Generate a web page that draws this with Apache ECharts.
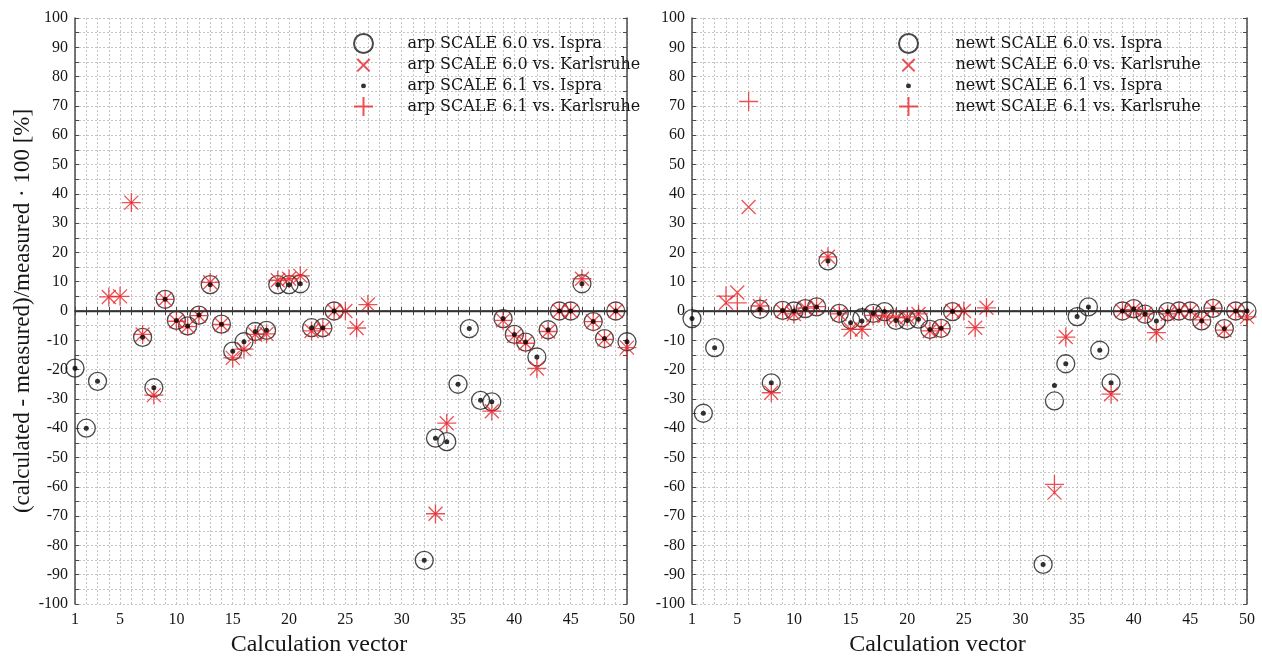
<!DOCTYPE html>
<html>
<head>
<meta charset="utf-8">
<script src="https://cdn.jsdelivr.net/npm/echarts@6/dist/echarts.min.js"></script>
<style>
  html, body { margin: 0; padding: 0; background: #ffffff; }
  #chart { width: 1262px; height: 656px; }
</style>
</head>
<body>
<div id="chart"></div>
<script>
// Calculation vectors 1..50
const vectors = Array.from({ length: 50 }, (_, i) => i + 1);
const xTickLabels = [1, 5, 10, 15, 20, 25, 30, 35, 40, 45, 50];
const yTickLabels = [100, 90, 80, 70, 60, 50, 40, 30, 20, 10, 0, -10, -20, -30, -40, -50, -60, -70, -80, -90, -100];

// arp: deviation (calculated - measured)/measured * 100 [%]
const arp60Ispra = [-19.5, -40, -24, null, null, null, -9, -26.2, 4, -3.2,
  -5.1, -1.4, 9, -4.5, -13.7, -10.5, -7, -6.6, 9, 9,
  9.3, -5.7, -5.7, 0, null, null, null, null, null, null,
  null, -85.1, -43.4, -44.6, -25, -6, -30.5, -31, -2.6, -8,
  -10.6, -15.7, -6.4, 0, 0, 9.3, -3.6, -9.4, 0, -10.5];
const arp60Karlsruhe = [null, null, null, 4.8, 5, 37, -8, -28.7, 4, -3.5,
  -5.3, -1.6, 9.8, -4.6, -16, -13, -8, -7.8, 10.5, 11,
  12, -6.8, -6, 0, 0, -5.8, 2.2, null, null, null,
  null, null, -69.2, -38.3, null, null, null, -34.2, -3.2, -8.5,
  -11, -19.6, -7, 0, 0, 11, -3.6, -9.7, 0, -12.5];
const arp61Ispra = [-19.5, -40, -24, null, null, null, -9, -26.2, 4, -3.2,
  -5.1, -1.4, 9, -4.5, -13.7, -10.5, -7, -6.6, 9, 9,
  9.3, -5.7, -5.7, 0, null, null, null, null, null, null,
  null, -85.1, -43.4, -44.6, -25, -6, -30.5, -31, -2.6, -8,
  -10.6, -15.7, -6.4, 0, 0, 9.3, -3.6, -9.4, 0, -10.5];
const arp61Karlsruhe = [null, null, null, 4.8, 5, 37, -8, -28.7, 4, -3.5,
  -5.3, -1.6, 9.8, -4.6, -16, -13, -8, -7.8, 10.5, 11,
  12, -6.8, -6, 0, 0, -5.8, 2.2, null, null, null,
  null, null, -69.2, -38.3, null, null, null, -34.2, -3.2, -8.5,
  -11, -19.6, -7, 0, 0, 11, -3.6, -9.7, 0, -12.5];

// newt: deviation (calculated - measured)/measured * 100 [%]
const newt60Ispra = [-2.6, -34.9, -12.5, null, null, null, 0.6, -24.5, 0.2, 0,
  0.8, 1.4, 17.1, -0.8, -3, -2.3, -0.8, -0.2, -3.2, -3.2,
  -2.8, -6.3, -5.9, -0.2, null, null, null, null, null, null,
  null, -86.5, -30.7, -18, -1.9, 1.4, -13.4, -24.5, 0, 0.8,
  -1.1, -3.4, -0.2, 0, 0, -3.4, 0.9, -6, 0, 0];
const newt60Karlsruhe = [null, null, null, 2.8, 6.3, 35.5, 1.7, -27.9, 0, -1,
  1, 1.5, 18.5, -1, -6.3, -6.3, -1.5, -1.7, -2.3, -2,
  -1, -6.8, -6, 0, 0, -5.7, 1.1, null, null, null,
  null, null, -62, -8.9, null, null, null, -28.4, 0, 0.5,
  -1, -7.4, -1, 0, 0, -3, 1, -6.5, 0, -2];
const newt61Ispra = [-2.6, -34.9, -12.5, null, null, null, 0.6, -24.5, 0.2, 0,
  0.8, 1.4, 17.1, -0.8, -4, -3.4, -0.8, -0.2, -3.2, -3.2,
  -2.8, -6.3, -5.9, -0.2, null, null, null, null, null, null,
  null, -86.5, -25.4, -18, -1.9, 1.4, -13.4, -24.5, 0, 0.8,
  -1.1, -3.4, -0.2, 0, 0, -3.4, 0.9, -6, 0, 0];
const newt61Karlsruhe = [null, null, null, 5.1, 2.8, 71.5, 1.7, -27.9, 0, -1,
  1, 1.5, 18.5, -1, -6.3, -6.3, -1.5, -1.7, -2.3, -2,
  -1, -6.8, -6, 0, 0, -5.7, 1.1, null, null, null,
  null, null, -59.2, -8.9, null, null, null, -28.4, 0, 0.5,
  -1, -7.4, -1, 0, 0, -3, 1, -6.5, 0, -2];

const FONT = 'Liberation Serif';
const LEGEND_FONT = 'DejaVu Serif';
const RED = '#e8262b';
const INK = '#1c1c1c';
const FRAME = '#4a4a4a';
const TEXT = '#161616';

const pairs = (ys) => vectors.map((x, i) => [x, ys[i]]).filter(p => p[1] !== null);

const SYM_X = 'path://M0,0L10,10M10,0L0,10';
const SYM_PLUS = 'path://M5,0L5,10M0,5L10,5';
// Legend icons: zero-length corner segments fix the icon box so the glyph keeps its size
const ICON_X = 'path://M0,0L0,0M20,20L20,20M3.5,3.5L16.5,16.5M16.5,3.5L3.5,16.5';
const ICON_DOT = 'path://M0,0L0,0M20,20L20,20M7.4,10a2.6,2.6 0 1,0 5.2,0a2.6,2.6 0 1,0 -5.2,0Z';

function styles(kind) {
  if (kind === 'circle') return { symbol: 'circle', symbolSize: 18, itemStyle: { color: 'rgba(0,0,0,0)', borderColor: INK, borderWidth: 1.3 } };
  if (kind === 'x') return { symbol: SYM_X, symbolSize: 14, itemStyle: { color: 'rgba(0,0,0,0)', borderColor: RED, borderWidth: 1.3 } };
  if (kind === 'dot') return { symbol: 'circle', symbolSize: 5, itemStyle: { color: '#000' } };
  return { symbol: SYM_PLUS, symbolSize: 19, itemStyle: { color: 'rgba(0,0,0,0)', borderColor: RED, borderWidth: 1.3 } };
}

function scatter(name, kind, ys, gi, extra) {
  return Object.assign({
    name, type: 'scatter', xAxisIndex: gi * 2, yAxisIndex: gi * 2,
    data: pairs(ys), z: kind === 'dot' ? 5 : (kind === 'circle' ? 3 : 4),
    emphasis: { disabled: true }, silent: true
  }, styles(kind), extra || {});
}

function xAxes(gi, withName) {
  const base = {
    type: 'value', gridIndex: gi, min: 1, max: 50, interval: 1,
    axisLine: { show: true, lineStyle: { color: FRAME, width: 1.5 } },
    axisTick: { show: true, inside: true, length: 4, lineStyle: { color: FRAME, width: 1 } },
    splitLine: { show: false }
  };
  return [
    Object.assign({}, base, {
      position: 'bottom',
      name: withName, nameLocation: 'middle', nameGap: 22,
      nameTextStyle: { fontFamily: FONT, fontSize: 24, color: TEXT, padding: [0, 64, 0, 0] },
      axisLabel: {
        fontFamily: FONT, fontSize: 16, color: TEXT, margin: 8,
        formatter: v => (xTickLabels.indexOf(v) >= 0 ? String(v) : '')
      },
      splitLine: { show: true, lineStyle: { color: '#c4c4c4', type: [2, 2], width: 1 } }
    }),
    Object.assign({}, base, { position: 'top', axisLabel: { show: false } })
  ];
}

function yAxes(gi, withName) {
  const base = {
    type: 'value', gridIndex: gi, min: -100, max: 100, interval: 5,
    axisLine: { show: true, lineStyle: { color: FRAME, width: 1.5 } },
    axisTick: { show: true, inside: true, length: 4, lineStyle: { color: FRAME, width: 1 } },
    splitLine: { show: false }
  };
  return [
    Object.assign({}, base, {
      position: 'left',
      name: withName, nameLocation: 'middle', nameGap: 41,
      nameTextStyle: { fontFamily: FONT, fontSize: 23, color: TEXT },
      axisLabel: {
        fontFamily: FONT, fontSize: 16, color: TEXT, margin: 7,
        formatter: v => (yTickLabels.indexOf(v) >= 0 ? String(v) : '')
      },
      splitLine: { show: true, lineStyle: { color: '#c4c4c4', type: [2, 2], width: 1 } }
    }),
    Object.assign({}, base, { position: 'right', axisLabel: { show: false } })
  ];
}

const zeroLine = {
  silent: true, symbol: 'none', label: { show: false },
  lineStyle: { color: '#333', width: 1.3, type: 'solid' },
  data: [{ yAxis: 0 }]
};

function legend(names, left, textPad) {
  return {
    orient: 'vertical', left: left, top: 28,
    itemWidth: 20, itemHeight: 19, itemGap: 0.7,
    selectedMode: false,
    textStyle: { fontFamily: LEGEND_FONT, fontSize: 16, color: TEXT, padding: [0, 0, 0, textPad] },
    data: [
      { name: names[0] },
      { name: names[1], icon: ICON_X },
      { name: names[2], icon: ICON_DOT },
      { name: names[3] }
    ]
  };
}

const arpNames = ['arp SCALE 6.0 vs. Ispra', 'arp SCALE 6.0 vs. Karlsruhe', 'arp SCALE 6.1 vs. Ispra', 'arp SCALE 6.1 vs. Karlsruhe'];
const newtNames = ['newt SCALE 6.0 vs. Ispra', 'newt SCALE 6.0 vs. Karlsruhe', 'newt SCALE 6.1 vs. Ispra', 'newt SCALE 6.1 vs. Karlsruhe'];

const option = {
  backgroundColor: '#ffffff',
  animation: false,
  grid: [
    { left: 75, right: 635, top: 18, bottom: 52, containLabel: false, outerBoundsMode: 'none' },
    { left: 692, right: 15, top: 18, bottom: 52, containLabel: false, outerBoundsMode: 'none' }
  ],
  legend: [legend(arpNames, 348, 29), legend(newtNames, 893, 32)],
  xAxis: xAxes(0, 'Calculation vector').concat(xAxes(1, 'Calculation vector')),
  yAxis: yAxes(0, '(calculated - measured)/measured · 100 [%]').concat(yAxes(1, '')),
  series: [
    scatter(arpNames[0], 'circle', arp60Ispra, 0, { markLine: zeroLine }),
    scatter(arpNames[1], 'x', arp60Karlsruhe, 0),
    scatter(arpNames[2], 'dot', arp61Ispra, 0),
    scatter(arpNames[3], 'plus', arp61Karlsruhe, 0),
    scatter(newtNames[0], 'circle', newt60Ispra, 1, { markLine: zeroLine }),
    scatter(newtNames[1], 'x', newt60Karlsruhe, 1),
    scatter(newtNames[2], 'dot', newt61Ispra, 1),
    scatter(newtNames[3], 'plus', newt61Karlsruhe, 1)
  ]
};

const chart = echarts.init(document.getElementById('chart'), null, { renderer: 'canvas' });
chart.setOption(option);
</script>
</body>
</html>
